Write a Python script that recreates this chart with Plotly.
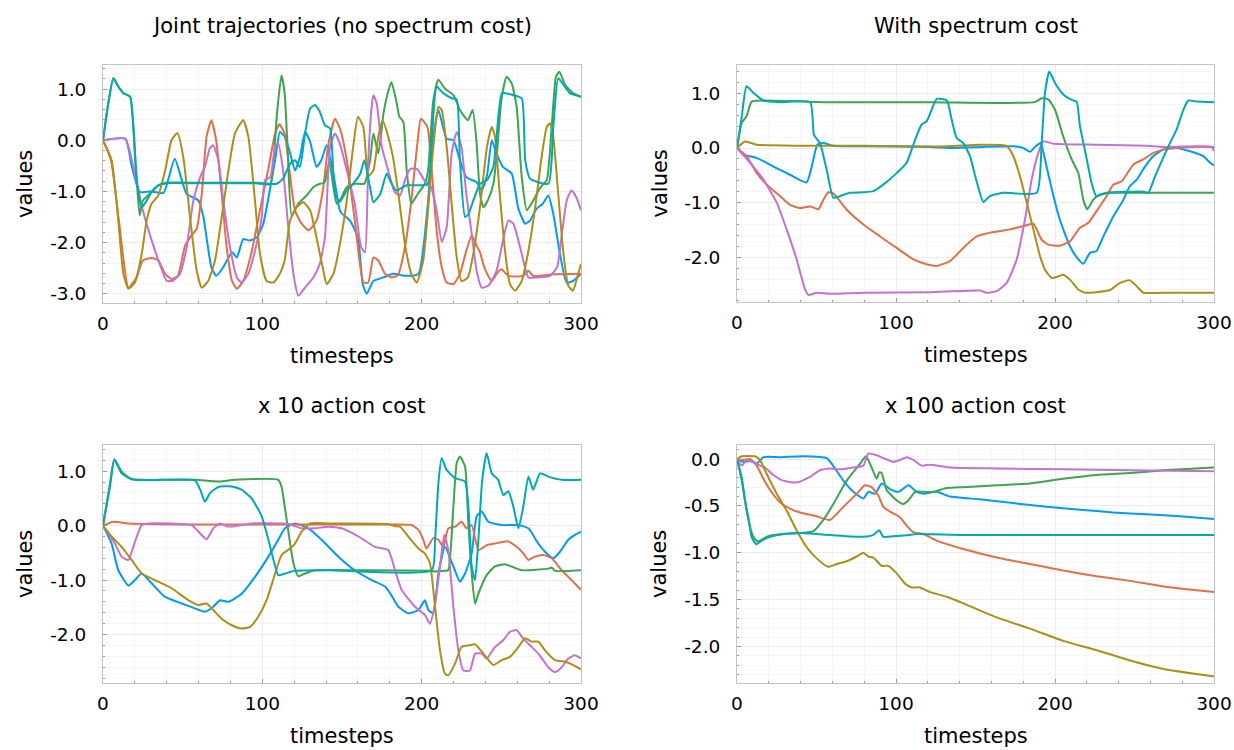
import plotly.graph_objects as go

# Plots.jl default palette, one colour per joint
COLORS = ['#009BFA', '#E36F47', '#3EA44E', '#C371D2', '#AC8E18', '#00AAAE']

PANEL_TITLES = [
    'Joint trajectories (no spectrum cost)',
    'With spectrum cost',
    'x 10 action cost',
    'x 100 action cost',
]

# ---- panel 1: joint trajectories (no spectrum cost) ----
p1_blue_t = [0, 14, 18, 23, 30, 38, 45, 52.5, 60, 63, 68, 71, 75.5, 81, 84, 88, 92, 96.5, 100.6, 105, 108, 111, 114, 117,
             120.5, 123.6, 126.8, 130, 134, 137, 140.4, 144.6, 149, 155, 160, 163, 165.5, 169.7, 176, 182, 190.6, 198,
             203.5, 207.3, 210.5, 215.7, 220, 224, 228, 234.5, 237.7, 241, 244, 247, 251, 256.5, 260.7, 265, 268, 272,
             276, 279.5, 282.6, 286.8, 291, 295, 300]
p1_blue_v = [0, 0.03, -0.5, -1.01, -1.0, -1.03, -0.36, -1.05, -1.18, -1.5, -2.48, -2.65, -2.48, -2.19, -2.29, -1.93, -1.96,
             -1.9, -1.63, -0.92, -0.39, 0.16, 0.07, -0.2, -0.59, -0.33, 0.16, -0.03, -0.52, -0.39, -0.1, -0.65, -1.4,
             -1.57, -1.9, -2.81, -3.0, -2.75, -2.68, -2.61, -2.65, -2.61, -1.37, 0.06, 0.59, 0.03, 0.0, -0.39, -0.72,
             -0.82, -0.98, -0.69, 0.0, -0.26, -0.52, -0.65, -1.34, -1.63, -1.57, -1.34, -1.24, -1.08, -1.44, -2.22,
             -2.78, -2.75, -2.61]
p1_orange_t = [0, 5, 10, 16, 21, 25, 30.5, 34.7, 39, 43, 47, 51.5, 55.6, 58.8, 62, 65, 68, 71, 74.5, 77.6, 81, 84, 88,
               93, 98.5, 104, 108, 110.7, 114, 117, 120.5, 124.7, 129, 134, 138, 141.5, 145.6, 149, 153, 158, 161.5,
               163.4, 166.5, 169.7, 172.8, 177, 181, 185, 189.5, 193.5, 197.5, 199.5, 203.6, 206.3, 209.4, 212.6,
               215.7, 220, 224, 228, 231.4, 234.5, 236.6, 239.7, 244, 247, 250, 254.4, 263.8, 267, 270, 282.6, 300]
p1_orange_v = [0, -0.39, -1.57, -2.88, -2.68, -2.35, -2.3, -2.35, -2.61, -2.71, -2.65, -2.06, -1.86, -1.73, -1.05, 0.07,
               0.39, 0.0, -1.05, -2.09, -2.75, -2.9, -2.75, -2.22, -1.37, -0.52, 0.13, 0.31, 0.13, -0.59, -1.37, -1.63,
               -1.76, -1.57, -0.98, -0.07, 0.42, 0.2, -0.39, -1.57, -2.48, -2.78, -2.78, -2.29, -2.35, -2.61, -2.68,
               -2.64, -2.09, -1.18, 0.0, 0.42, 0.26, -0.59, -1.76, -2.48, -2.78, -2.81, -2.61, -2.16, -1.86, -2.06,
               -2.19, -2.52, -2.75, -2.61, -2.52, -2.65, -2.65, -2.55, -2.65, -2.62, -2.61]
p1_green_t = [0, 3.3, 6.5, 9.6, 12.8, 17, 19, 21, 23, 25, 30.5, 34.7, 40, 55, 75, 96, 105, 107, 109.4, 112, 114, 116,
              118.4, 122.6, 127.8, 132, 136, 139, 142, 144.6, 146.7, 148.7, 152.9, 158, 164, 167.6, 169.7, 172.8, 176,
              178.7, 181, 184, 186, 188.5, 190.6, 193.5, 197.5, 202, 204, 207.3, 210.5, 214.6, 220, 224, 229, 232,
              234.5, 236.6, 238.8, 242, 245, 247.4, 250, 253.3, 256.5, 259.6, 262.8, 266, 270, 274.5, 278.5, 281.6,
              284.3, 286.5, 290, 295, 300]
p1_green_v = [0, 0.72, 1.21, 1.05, 0.92, 0.85, 0.3, -0.7, -1.47, -1.18, -1.01, -0.88, -0.84, -0.84, -0.84, -0.84, -0.86,
              -0.4, 0.59, 1.27, 0.92, -0.26, -1.47, -1.24, -1.08, -0.92, -0.85, -0.83, -0.42, -0.92, -1.24, -1.18,
              -0.92, -0.85, -0.85, -0.39, 0.13, -0.26, 0.52, 0.92, 1.14, 0.78, 0.46, 0.36, -0.59, -1.24, -1.05, -0.85,
              -0.6, 0.78, 1.18, 1.01, 0.88, 0.59, 0.39, 0.59, -0.07, -1.05, -1.31, -1.14, -0.85, -0.2, 0.78, 1.24, 1.11,
              0.65, -0.72, -1.37, -1.18, -0.92, -0.78, 0.26, 1.24, 1.34, 1.08, 0.92, 0.85]
p1_purple_t = [0, 14, 19, 25, 31.6, 36.8, 40, 44, 48.3, 52.5, 56.7, 61, 64, 67, 69.2, 72.4, 75.5, 79.7, 84, 87, 91.2,
               95.4, 99.6, 101.7, 105, 108, 110, 113, 116.3, 119.5, 122.6, 126.8, 132, 136, 139.3, 142.5, 145.6, 149,
               153, 158, 162, 164.4, 166.5, 168.6, 169.7, 171.8, 175, 179, 183, 186.5, 189.5, 192.8, 197, 199.9, 203.6,
               205.6, 209.4, 212.6, 215.7, 218.8, 222, 225, 228, 231.4, 234.5, 237.7, 242, 247, 251, 254.4, 257.5,
               261.8, 267, 272, 280.5, 285, 288, 291, 294, 297, 300]
p1_purple_v = [0, 0.03, -0.52, -1.37, -2.06, -2.52, -2.75, -2.74, -2.61, -2.09, -1.18, -0.72, -0.52, -0.16, -0.1, -0.39,
               -1.18, -2.09, -2.68, -2.78, -2.61, -2.16, -1.5, -0.78, -0.72, -0.13, -0.07, -0.59, -1.7, -2.61, -3.04,
               -2.88, -2.68, -2.42, -1.9, -0.13, 0.13, -0.1, -0.59, -1.24, -2.09, -2.19, -0.39, 0.65, 0.88, 0.72, -0.13,
               -0.59, -1.01, -1.08, -0.78, -0.56, -0.56, -0.69, -0.88, -0.9, -1.37, -1.99, -1.7, -0.26, 0.16, -0.13,
               -1.05, -1.83, -2.55, -2.88, -2.84, -2.55, -1.96, -1.57, -1.63, -2.09, -2.68, -2.68, -2.65, -2.48, -1.83,
               -1.18, -0.98, -1.11, -1.37]
p1_olive_t = [0, 5.4, 9.6, 12.8, 16, 20, 24.3, 27.4, 30.5, 34.7, 39, 43, 46.7, 50.4, 54.6, 58.8, 62, 66, 70.3, 74.5,
              78.7, 82.8, 88, 91.2, 95.4, 98.5, 102.7, 107, 111, 114, 117.4, 121.5, 125.7, 130, 134, 138.3, 140.4,
              144.6, 148.7, 153, 157, 160, 163.4, 166.5, 169.7, 172.8, 175.5, 179, 182, 185.4, 189.5, 193.5, 196.9,
              201, 204, 207.3, 210.5, 212.6, 215.7, 218.8, 222, 225, 229, 232.4, 236.6, 241, 244, 246, 249, 252.3,
              255.4, 258.6, 262.8, 267, 271, 275, 278.5, 280.5, 282.6, 285.7, 289, 292, 295, 297, 300]
p1_olive_v = [0, -0.39, -1.57, -2.61, -2.9, -2.78, -2.22, -1.57, -1.24, -1.08, -0.59, 0.0, 0.14, -0.33, -1.5, -2.55,
              -2.88, -2.75, -2.35, -1.5, -0.59, 0.13, 0.39, 0.07, -1.18, -2.22, -2.75, -2.78, -2.61, -2.35, -1.57,
              -1.31, -1.21, -1.37, -1.9, -2.55, -2.81, -2.61, -2.03, -1.18, -0.13, 0.46, 0.26, -0.7, -0.59, 0.07, 0.39,
              0.07, -0.33, -1.05, -2.03, -2.61, -2.78, -2.35, -1.37, -0.13, 0.65, 0.59, -0.13, -1.24, -2.29, -2.75,
              -2.68, -2.22, -1.31, -0.13, 0.26, 0.07, -1.05, -2.16, -2.81, -2.94, -2.75, -2.16, -1.37, -0.39, 0.26,
              0.33, 0.07, -1.05, -2.22, -2.84, -2.94, -2.75, -2.42]
p1_teal_t = [0, 3.3, 6.5, 9.6, 12.8, 17, 19, 21, 24.3, 27.4, 30.5, 34.7, 40, 55, 75, 96, 109, 113, 117.4, 120.5, 123.6,
             126.8, 130, 133, 136, 139.3, 142.5, 145.6, 148.7, 153, 157, 161.5, 164, 167.6, 169.7, 174, 178, 180, 184,
             190.6, 203.6, 206.3, 209.4, 213.5, 219, 222, 224, 227.2, 229.3, 232.4, 236.6, 241, 245, 248.3, 250.4,
             257.5, 262.8, 265, 268, 279.5, 282.6, 285.7, 289, 293, 300]
p1_teal_v = [0, 0.72, 1.21, 1.05, 0.92, 0.85, 0.26, -0.72, -1.31, -1.18, -1.01, -0.88, -0.83, -0.83, -0.83, -0.83, -0.85,
             -0.75, -0.46, -0.39, -0.52, 0.13, 0.62, 0.69, 0.56, 0.29, 0.23, -1.05, -1.2, -0.98, -0.85, -0.65, -0.39,
             -0.92, -1.21, -1.05, -0.65, -0.78, -0.98, -0.88, -0.86, 0.0, 1.05, 0.92, 0.82, 0.8, -0.39, -1.5, -1.45,
             -1.18, -0.85, -0.78, -0.52, 0.52, 0.92, 0.88, 0.82, -0.39, -0.75, -0.85, 0.26, 1.21, 1.08, 0.92, 0.85]

# ---- panel 2: with spectrum cost ----
p2_blue_t = [0, 4, 12.4, 22.9, 33.3, 43.8, 47, 50.5, 54.3, 60.6, 79.5, 121.4, 136, 155, 173.8, 180, 184.3, 187.4, 191,
             193.7, 198, 203, 209.4, 214.7, 217.8, 222, 226, 230.4, 236.7, 243, 247, 251.4, 256.6, 261.8, 268, 276.5,
             285, 293.3, 297.5, 300]
p2_blue_v = [0, -0.12, -0.18, -0.34, -0.49, -0.63, -0.34, 0.06, 0.09, 0.04, 0.03, 0.02, 0.0, 0.02, 0.03, 0.0, -0.07,
             0.02, 0.09, -0.21, -0.76, -1.31, -1.8, -2.04, -2.12, -1.92, -1.89, -1.62, -1.25, -0.95, -0.7, -0.58,
             -0.34, -0.15, -0.03, 0.0, -0.06, -0.15, -0.27, -0.32]
p2_orange_t = [0, 6, 12.4, 18.7, 27, 33.3, 39.6, 46, 51.2, 54.3, 57.4, 60.6, 69, 79.5, 90, 100.4, 111, 119.3, 125.6,
               134, 142.3, 150.7, 161.2, 171.7, 180, 186.4, 191.6, 195.8, 203, 209.4, 215.7, 221, 226, 232.5, 236.7,
               242, 249.3, 255.6, 261.8, 268, 274.4, 285, 300]
p2_orange_v = [0, -0.15, -0.46, -0.67, -0.88, -1.04, -1.1, -1.07, -1.12, -0.95, -0.81, -0.83, -1.13, -1.4, -1.62,
               -1.83, -2.04, -2.13, -2.16, -2.07, -1.83, -1.62, -1.54, -1.49, -1.43, -1.39, -1.68, -1.77, -1.79, -1.71,
               -1.46, -1.37, -1.16, -0.88, -0.67, -0.61, -0.3, -0.21, -0.09, -0.03, 0.0, 0.02, 0.02]
p2_green_t = [0, 3, 6, 9.2, 16.6, 58.5, 121.4, 187.4, 191.6, 195.8, 200, 205.2, 210.5, 214.7, 217.8, 220.3, 224, 228.3,
              236.7, 268, 300]
p2_green_v = [0, 0.46, 0.58, 0.85, 0.87, 0.84, 0.84, 0.84, 0.91, 0.89, 0.7, 0.21, -0.21, -0.46, -0.95, -1.12, -0.95,
              -0.85, -0.82, -0.82, -0.82]
p2_purple_t = [0, 8.2, 16.6, 25, 31.2, 37.5, 42.8, 44.9, 50.1, 58.5, 79.5, 121.4, 152.8, 157, 163.3, 169.6, 175.9,
               181.1, 185.3, 189.5, 192.7, 199, 226, 257.7, 268, 289, 298.5, 300]
p2_purple_v = [0, -0.27, -0.58, -1.0, -1.49, -2.04, -2.59, -2.69, -2.65, -2.67, -2.65, -2.64, -2.61, -2.65, -2.62,
               -2.47, -2.04, -1.31, -0.58, -0.09, 0.12, 0.08, 0.06, 0.04, 0.02, 0.03, 0.02, -0.05]
p2_olive_t = [0, 5, 12.4, 37.5, 79.5, 132, 152.8, 169.6, 173.8, 178, 182.2, 186.4, 190.6, 193.7, 198, 202, 205.2,
              209.4, 214.7, 219, 226, 234.6, 240.9, 247, 251.4, 255.6, 268, 300]
p2_olive_v = [0, 0.12, 0.06, 0.04, 0.04, 0.03, 0.06, 0.04, -0.15, -0.52, -1.0, -1.49, -1.98, -2.23, -2.38, -2.35,
              -2.32, -2.41, -2.59, -2.65, -2.64, -2.6, -2.47, -2.42, -2.53, -2.65, -2.65, -2.65]
p2_teal_t = [0, 3, 6, 10.3, 16.6, 27, 46, 48.4, 52.2, 56.4, 60.6, 64.8, 71, 79.5, 85.7, 92, 100.4, 106.7, 112, 116.1,
             119.3, 122.4, 125.6, 132, 135, 138.2, 142.3, 146.5, 150.7, 155, 159, 167.5, 188.5, 191.6, 193.7, 196.4,
             200, 205.2, 210.5, 213.6, 215.7, 220, 223, 226, 232.5, 255.6, 258.7, 262.9, 268, 272.3, 276.5, 280.7,
             283.9, 289, 300]
p2_teal_v = [0, 0.58, 1.13, 1.01, 0.87, 0.84, 0.84, 0.24, 0.09, -0.4, -0.91, -0.88, -0.82, -0.81, -0.79, -0.67, -0.46,
             -0.27, 0.15, 0.43, 0.49, 0.7, 0.9, 0.87, 0.52, 0.18, 0.09, -0.15, -0.61, -0.99, -0.88, -0.82, -0.82,
             0.09, 1.01, 1.4, 1.19, 0.98, 0.88, 0.85, 0.4, -0.21, -0.64, -0.88, -0.82, -0.8, -0.82, -0.52, -0.18,
             0.09, 0.34, 0.7, 0.87, 0.85, 0.84]

# ---- panel 3: x 10 action cost ----
p3_blue_t = [0, 5.4, 9.6, 16, 20, 24.3, 30.5, 39, 49.4, 57.7, 64, 69.2, 73.4, 78.7, 87, 95.4, 103.8, 110, 114.2, 120.5,
             128.9, 137.2, 147.7, 158, 168.6, 177, 181, 185.4, 191.6, 198, 202, 204.2, 207.3, 210.5, 214.6, 219.9,
             224, 227.2, 231.4, 234.5, 237.7, 241.8, 250.2, 260.7, 267, 273.2, 279.5, 282.6, 286.8, 292, 296.2, 300]
p3_blue_v = [0, -0.33, -0.82, -1.1, -1.0, -0.88, -1.06, -1.31, -1.43, -1.52, -1.58, -1.49, -1.37, -1.4, -1.25, -0.94,
             -0.57, -0.26, -0.05, 0.04, -0.05, -0.26, -0.57, -0.82, -1.0, -1.12, -1.28, -1.49, -1.61, -1.55, -1.37,
             -1.55, -1.61, -0.88, -0.39, -0.75, -1.03, -0.88, -0.51, 0.17, 0.26, 0.07, 0.01, 0.01, -0.05, -0.33,
             -0.54, -0.6, -0.48, -0.26, -0.17, -0.11]
p3_orange_t = [0, 6.5, 16, 57.7, 120.5, 183.3, 193.7, 198, 201, 203, 207.3, 210.5, 213.6, 216.7, 221, 225, 228.2,
               231.4, 235.6, 240.8, 246, 254.4, 259.6, 263.8, 267, 271, 276.4, 281.6, 287.9, 294, 300]
p3_orange_v = [0, 0.07, 0.04, 0.02, 0.02, 0.02, 0.01, -0.08, -0.26, -0.42, -0.23, -0.26, -0.39, -0.05, -0.02, 0.07,
               -0.05, 0.01, -0.45, -0.36, -0.33, -0.29, -0.39, -0.51, -0.63, -0.57, -0.54, -0.6, -0.82, -1.0, -1.18]
p3_green_t = [0, 4.4, 7.1, 11.7, 18, 36.8, 57.7, 72.4, 82.8, 110, 112, 115.3, 119.5, 122.6, 126.8, 133, 162.3, 204.2,
              206.3, 214.6, 216.7, 219.9, 222, 224, 227.2, 229.3, 231.4, 233.5, 235.6, 240.8, 246, 252.3, 262.8,
              279.5, 281.6, 283.7, 300]
p3_green_v = [0, 0.78, 1.21, 0.96, 0.85, 0.84, 0.84, 0.81, 0.84, 0.84, 0.72, 0.1, -0.69, -0.93, -0.88, -0.82, -0.82,
              -0.83, -0.84, -0.83, -0.82, 0.35, 1.15, 1.27, 1.09, 0.04, -0.88, -1.43, -1.25, -0.91, -0.75, -0.71,
              -0.82, -0.79, -0.77, -0.83, -0.82]
p3_purple_t = [0, 7.5, 11.7, 16, 19, 24.3, 28.5, 55.6, 59.8, 65, 69.2, 73.4, 77.6, 82.8, 93.3, 116.3, 124.7, 133,
               141.4, 149.8, 160.3, 170.7, 179, 183.3, 187.4, 195.8, 202, 205.2, 208.4, 211.5, 214.2, 216.7, 219.9,
               223, 226.2, 230.3, 233.5, 237.7, 240.8, 246, 251.3, 255.4, 259.6, 262.8, 267, 273.2, 279.5, 283.7,
               287.9, 292, 296.2, 300]
p3_purple_v = [0, -0.33, -0.57, -0.63, -0.39, 0.01, 0.04, 0.01, -0.11, -0.25, -0.05, 0.04, -0.01, -0.01, 0.04, 0.03,
               -0.05, -0.05, -0.02, -0.05, -0.2, -0.39, -0.45, -0.82, -1.18, -1.49, -1.64, -1.8, -1.43, -0.75, -0.17,
               -0.45, -1.49, -2.29, -2.66, -2.66, -2.35, -2.35, -2.44, -2.23, -2.1, -1.95, -1.92, -2.04, -2.17, -2.35,
               -2.6, -2.69, -2.6, -2.44, -2.38, -2.44]
p3_olive_t = [0, 5.4, 11.7, 18, 24.3, 32.6, 43.1, 53.6, 59.8, 65, 69.2, 74.5, 80.8, 87, 92.3, 97.5, 102.7, 108, 112.1,
              117.4, 120.5, 124.7, 130, 141.4, 179, 183.3, 186.4, 191.6, 198, 202, 205.2, 208.4, 211.5, 214.6, 216.7,
              221, 225, 229.3, 233.5, 238.7, 245, 250.2, 255.4, 260.7, 264.9, 269, 273.2, 277.4, 283.7, 290, 295.2, 300]
p3_olive_v = [0, -0.2, -0.39, -0.63, -0.88, -1.0, -1.15, -1.37, -1.46, -1.43, -1.55, -1.71, -1.83, -1.89, -1.86, -1.67,
              -1.37, -0.88, -0.54, -0.42, -0.33, -0.11, 0.04, 0.04, 0.03, -0.01, -0.02, -0.2, -0.42, -0.51, -0.69,
              -1.49, -2.29, -2.72, -2.75, -2.53, -2.23, -2.2, -2.18, -2.35, -2.56, -2.47, -2.41, -2.23, -2.07, -2.13,
              -2.13, -2.29, -2.47, -2.5, -2.56, -2.64]
p3_teal_t = [0, 4.4, 7.1, 11.7, 18, 36.8, 57.7, 61, 64, 67.2, 72.4, 80.8, 87, 93.3, 99.6, 103.8, 107, 110, 114.2, 120.5,
             141.4, 206.3, 208.4, 210.5, 212.5, 215.7, 221, 227.2, 229.3, 231.4, 233.5, 235.6, 238, 240.8, 244, 248,
             251.3, 254.4, 257.5, 260.7, 263.8, 267, 270, 274.3, 279.5, 287.9, 300]
p3_teal_v = [0, 0.72, 1.22, 0.99, 0.85, 0.84, 0.83, 0.66, 0.44, 0.6, 0.71, 0.72, 0.66, 0.5, 0.17, -0.26, -0.63, -0.91,
             -0.88, -0.83, -0.82, -0.82, -0.26, 0.78, 1.24, 1.02, 0.87, 0.81, 0.35, -0.75, -1.0, -0.26, 0.84, 1.33,
             0.96, 0.84, 0.56, 0.63, 0.35, -0.05, 0.35, 0.9, 0.66, 0.96, 0.9, 0.84, 0.84]

# ---- panel 4: x 100 action cost ----
p4_blue_t = [0, 4, 8.2, 12.4, 16.6, 27, 41.7, 56.4, 59.5, 66.9, 73.2, 79.5, 82.6, 86.8, 91, 96.2, 101.5, 107.8, 113,
             117.2, 125.6, 134, 152.8, 173.8, 194.8, 215.7, 236.7, 257.7, 278.6, 300]
p4_blue_v = [0, -0.03, -0.02, -0.05, 0.02, 0.02, 0.03, 0.01, -0.05, -0.23, -0.35, -0.42, -0.35, -0.37, -0.26, -0.32,
             -0.35, -0.28, -0.35, -0.37, -0.35, -0.4, -0.43, -0.47, -0.51, -0.54, -0.57, -0.59, -0.61, -0.64]
p4_orange_t = [0, 4, 8.2, 12.4, 16.6, 20.8, 27, 33.3, 39.6, 50, 58.5, 66.9, 75.3, 80.5, 84.7, 88.9, 92, 96.2, 102.5,
               106.7, 110.9, 117.2, 125.6, 142.3, 163.3, 184.3, 205.2, 226.2, 247.2, 268.1, 300]
p4_orange_v = [0, -0.01, 0.0, -0.07, -0.21, -0.33, -0.46, -0.53, -0.57, -0.61, -0.65, -0.51, -0.37, -0.28, -0.3,
               -0.39, -0.51, -0.56, -0.62, -0.71, -0.78, -0.8, -0.87, -0.96, -1.05, -1.12, -1.19, -1.25, -1.3, -1.36,
               -1.42]
p4_green_t = [0, 3, 6, 10, 13, 20, 30, 40, 48, 54.3, 60.6, 69, 77.4, 81.1, 84.7, 87.8, 89.5, 91, 94.1, 100.4, 104.6,
              107.8, 112, 117.2, 123.5, 131.9, 142.3, 163.3, 184.3, 205.2, 226.2, 247.2, 268.1, 300]
p4_green_v = [0, -0.2, -0.55, -0.82, -0.88, -0.82, -0.8, -0.79, -0.77, -0.65, -0.48, -0.23, -0.05, 0.03, -0.09, -0.21,
              -0.14, -0.15, -0.33, -0.44, -0.48, -0.44, -0.35, -0.35, -0.35, -0.31, -0.3, -0.28, -0.26, -0.21, -0.17,
              -0.15, -0.12, -0.09]
p4_purple_t = [0, 3, 6, 10.3, 14.5, 17.6, 22.9, 29.1, 37.5, 45.9, 52.2, 58.5, 64.8, 73.2, 79.5, 82.6, 87.8, 92, 98.3,
               102.5, 106.7, 110.9, 116.1, 121.4, 125.6, 134, 163.3, 205.2, 247.2, 300]
p4_purple_v = [0, -0.07, -0.01, -0.03, -0.07, -0.09, -0.17, -0.23, -0.25, -0.19, -0.12, -0.1, -0.11, -0.09, -0.07,
               0.06, 0.04, 0.01, -0.03, -0.01, 0.02, -0.01, -0.07, -0.06, -0.07, -0.09, -0.1, -0.11, -0.12, -0.13]
p4_olive_t = [0, 3, 11.3, 14.5, 18.7, 25, 31.2, 37.5, 43.8, 50.1, 57.4, 62.7, 69, 75.3, 79.5, 82.6, 85.7, 91, 95.2,
              100.4, 105.7, 109.9, 115.1, 121.4, 131.9, 142.3, 163.3, 184.3, 205.2, 226.2, 247.2, 268.1, 300]
p4_olive_v = [0, 0.03, 0.03, -0.01, -0.16, -0.37, -0.55, -0.76, -0.94, -1.06, -1.15, -1.12, -1.09, -1.04, -1.0, -1.04,
              -1.05, -1.14, -1.14, -1.22, -1.33, -1.37, -1.37, -1.42, -1.47, -1.54, -1.69, -1.81, -1.94, -2.04, -2.15,
              -2.24, -2.32]
p4_teal_t = [0, 3, 5, 7.1, 9.2, 12, 15.5, 20.8, 29.1, 39.6, 58.5, 79.5, 85.7, 89.5, 92, 100.4, 108.8, 113, 142.3, 300]
p4_teal_v = [0, -0.23, -0.44, -0.62, -0.83, -0.91, -0.87, -0.83, -0.8, -0.79, -0.81, -0.83, -0.81, -0.76, -0.83, -0.82,
             -0.81, -0.8, -0.81, -0.81]

# y axis ticks per panel (labels use a plain hyphen like the original)
unit_ticks = [-3.0, -2.0, -1.0, 0.0, 1.0]
unit_labels = ['-3.0', '-2.0', '-1.0', '0.0', '1.0']
half_ticks = [-2.0, -1.5, -1.0, -0.5, 0.0]
half_labels = ['-2.0', '-1.5', '-1.0', '-0.5', '0.0']

panels = [
    [(p1_blue_t, p1_blue_v), (p1_orange_t, p1_orange_v), (p1_green_t, p1_green_v),
     (p1_purple_t, p1_purple_v), (p1_olive_t, p1_olive_v), (p1_teal_t, p1_teal_v)],
    [(p2_blue_t, p2_blue_v), (p2_orange_t, p2_orange_v), (p2_green_t, p2_green_v),
     (p2_purple_t, p2_purple_v), (p2_olive_t, p2_olive_v), (p2_teal_t, p2_teal_v)],
    [(p3_blue_t, p3_blue_v), (p3_orange_t, p3_orange_v), (p3_green_t, p3_green_v),
     (p3_purple_t, p3_purple_v), (p3_olive_t, p3_olive_v), (p3_teal_t, p3_teal_v)],
    [(p4_blue_t, p4_blue_v), (p4_orange_t, p4_orange_v), (p4_green_t, p4_green_v),
     (p4_purple_t, p4_purple_v), (p4_olive_t, p4_olive_v), (p4_teal_t, p4_teal_v)],
]

W, H = 1234, 750
FONT = 'DejaVu Sans, Verdana, sans-serif'

# plot boxes in pixels: (left, right, top, bottom)
boxes = [(103, 581, 65, 303), (737, 1214, 65, 302), (103, 581, 445, 683), (737, 1214, 445, 683)]
y_ranges = [(-3.18, 1.47), (-2.82, 1.52), (-2.89, 1.48), (-2.39, 0.15)]

fig = go.Figure()

for i, series in enumerate(panels):
    suffix = '' if i == 0 else str(i + 1)
    for k, (t, v) in enumerate(series):
        assert len(t) == len(v), (i, k)
        fig.add_trace(go.Scatter(
            x=t, y=v, mode='lines',
            line=dict(color=COLORS[k], width=2, shape='spline', smoothing=0.5),
            xaxis='x' + suffix, yaxis='y' + suffix, showlegend=False,
        ))

axis_common = dict(
    automargin=False,
    showline=True, linecolor='#c4c4c4', linewidth=1, mirror=True,
    ticks='inside', ticklen=4, tickcolor='#9a9a9a', tickwidth=1,
    showgrid=True, gridcolor='#ececec', gridwidth=1, zeroline=False,
    tickfont=dict(family=FONT, size=18.5, color='#000000'),
)

layout = dict(
    width=W, height=H, autosize=False, margin=dict(l=0, r=0, t=0, b=0, pad=0),
    paper_bgcolor='white', plot_bgcolor='white',
    font=dict(family=FONT, color='#000000'),
    annotations=[],
)

for i, (left, right, top, bottom) in enumerate(boxes):
    suffix = '' if i == 0 else str(i + 1)
    ticks, labels, minor = (half_ticks, half_labels, 0.1) if i == 3 else (unit_ticks, unit_labels, 0.2)
    layout['xaxis' + suffix] = dict(
        axis_common, domain=[left / W, right / W], anchor='y' + suffix,
        range=[0, 300], tickvals=[0, 100, 200, 300], ticktext=['0', '100', '200', '300'],
        ticklabelstandoff=4,
        minor=dict(dtick=20, tick0=0, ticks='inside', ticklen=2, tickcolor='#9a9a9a',
                   showgrid=True, gridcolor='#f6f6f6'),
    )
    layout['yaxis' + suffix] = dict(
        axis_common, domain=[1 - bottom / H, 1 - top / H], anchor='x' + suffix,
        range=list(y_ranges[i]), tickvals=ticks, ticktext=labels,
        ticklabelstandoff=12,
        minor=dict(dtick=minor, tick0=0, ticks='inside', ticklen=2, tickcolor='#9a9a9a',
                   showgrid=True, gridcolor='#f6f6f6'),
    )
    cx = (left + right) / 2
    cy = (top + bottom) / 2
    layout['annotations'] += [
        dict(text=PANEL_TITLES[i], x=cx / W, y=1 - (top - 39) / H, xref='paper', yref='paper',
             showarrow=False, xanchor='center', yanchor='middle', font=dict(family=FONT, size=21)),
        dict(text='timesteps', x=cx / W, y=1 - (bottom + 53) / H, xref='paper', yref='paper',
             showarrow=False, xanchor='center', yanchor='middle', font=dict(family=FONT, size=21)),
        dict(text='values', x=(left - 78) / W, y=1 - cy / H, xref='paper', yref='paper', textangle=-90,
             showarrow=False, xanchor='center', yanchor='middle', font=dict(family=FONT, size=21)),
    ]

fig.update_layout(layout)
# drop the browser's default 8px body margin and hide scrollbars so the figure sits at the page origin
fig.write_html(
    'out.html',
    config={'responsive': False, 'displayModeBar': False},
    post_script="document.body.style.margin = '0'; document.body.style.overflow = 'hidden';",
)
